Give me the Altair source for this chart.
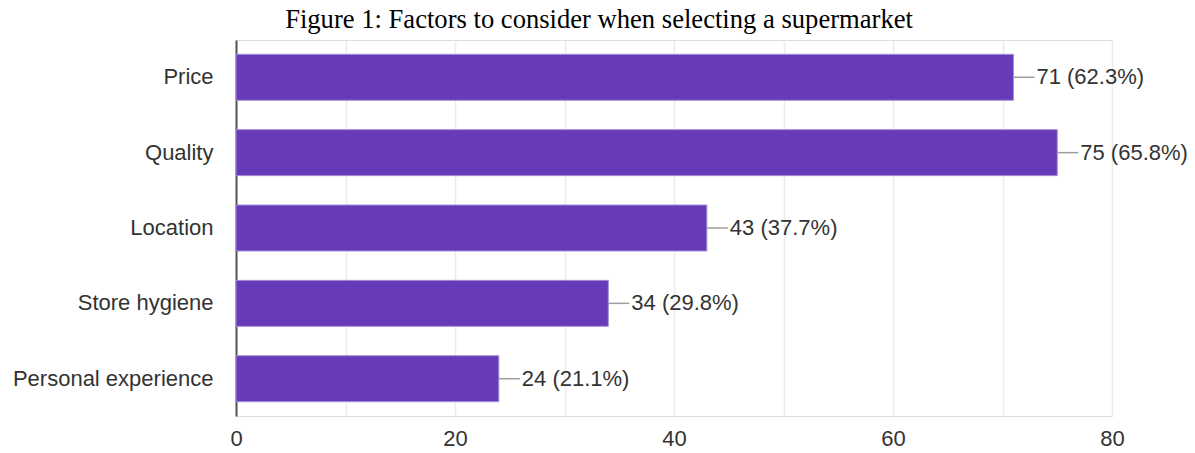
import altair as alt
import pandas as pd

categories = ["Price", "Quality", "Location", "Store hygiene", "Personal experience"]
counts = [71, 75, 43, 34, 24]
percents = ["62.3%", "65.8%", "37.7%", "29.8%", "21.1%"]
x_ticks = [0, 10, 20, 30, 40, 50, 60, 70, 80]

df = pd.DataFrame({
    "factor": categories,
    "count": counts,
    "label": [f"{c} ({p})" for c, p in zip(counts, percents)],
})

FONT = "Liberation Sans"
FS = 22

y_enc = alt.Y("factor:N", sort=categories, title=None,
              scale=alt.Scale(paddingInner=0.39, paddingOuter=0.19),
              axis=alt.Axis(labelFont=FONT, labelFontSize=FS, labelColor="#333333",
                            labelPadding=23, labelLimit=400, ticks=False,
                            domainColor="#555555", domainWidth=2, grid=False))
x_enc = alt.X("count:Q", title=None,
              scale=alt.Scale(domain=[0, 80], nice=False),
              axis=alt.Axis(values=x_ticks,
                            labelExpr="datum.value % 20 == 0 ? datum.label : ''",
                            labelFont=FONT, labelFontSize=FS, labelColor="#333333",
                            labelPadding=12, labelFlush=False, ticks=False, domain=False,
                            gridColor="#ececec", gridWidth=1.5))

bars = alt.Chart(df).mark_bar(color="#673AB7", stroke="#a58bd6", strokeWidth=1).encode(
    x=x_enc, y=y_enc)

connectors = alt.Chart(df).mark_rule(color="#9e9e9e", strokeWidth=1.5, x2Offset=21).encode(
    x="count:Q", x2="count:Q", y=alt.Y("factor:N", sort=categories, bandPosition=0.5))

texts = alt.Chart(df).mark_text(align="left", baseline="middle", dx=23, font=FONT,
                                fontSize=FS, color="#333333").encode(
    x="count:Q", y=alt.Y("factor:N", sort=categories), text="label:N")

chart = (bars + connectors + texts).properties(
    width=876, height=376,
    title=alt.TitleParams("Figure 1: Factors to consider when selecting a supermarket",
                          font="Liberation Serif", fontSize=26.6, fontWeight="normal",
                          color="#000000", anchor="middle", dx=-75, offset=6),
    autosize=alt.AutoSizeParams(type="none"),
    padding={"left": 236, "top": 40, "right": 83, "bottom": 37},
).configure_view(stroke="#e6e6e6", strokeWidth=1.5).configure(background="white")

chart.save("out.html", embed_options={"renderer": "svg", "actions": False})
